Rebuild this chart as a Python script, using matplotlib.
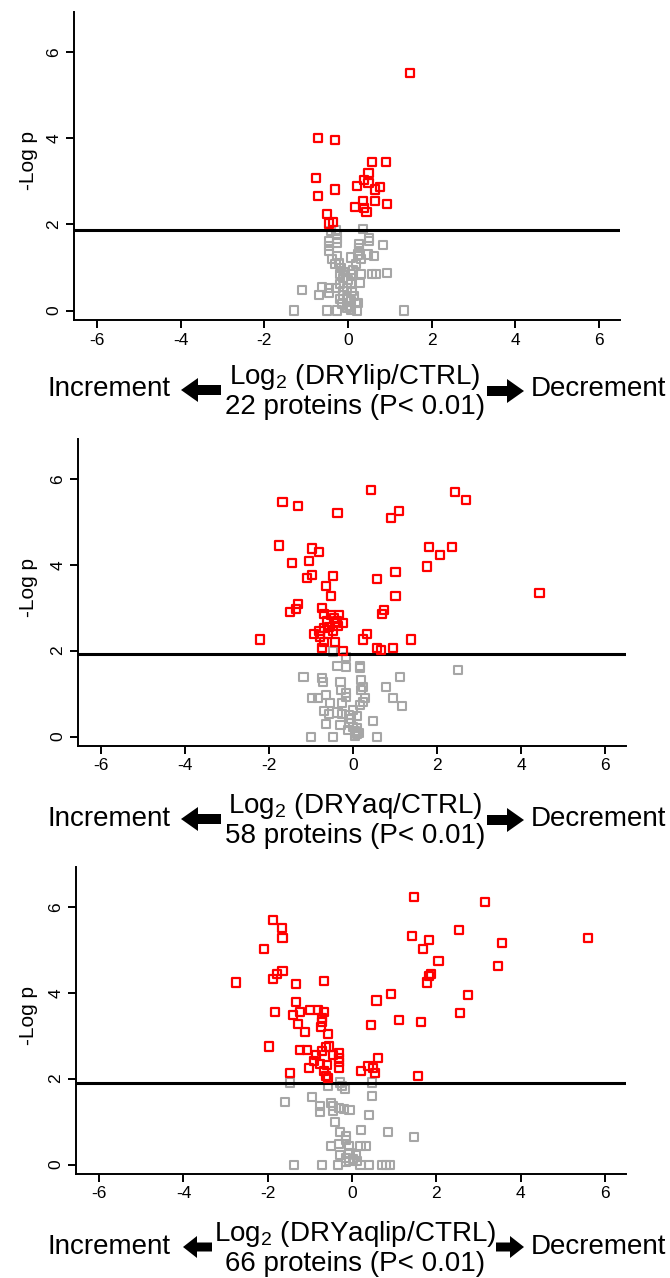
import matplotlib
matplotlib.use("Agg")
import matplotlib.pyplot as plt
from matplotlib.patches import FancyArrow

plt.rcParams['font.family'] = ['Liberation Sans', 'DejaVu Sans']
plt.rcParams['mathtext.fontset'] = 'custom'
plt.rcParams['mathtext.rm'] = 'Liberation Sans'
plt.rcParams['axes.unicode_minus'] = False

# ---- Dados (log2 ratio, -log p) ----
# DRYlip / CTRL
lip_sig_x = [1.48, -0.72, -0.31, 0.58, 0.90, -0.77, 0.49, 0.39, 0.49, 0.22, -0.31, 0.65,
             0.76, -0.72, 0.36, 0.64, 0.93, 0.17, 0.39, 0.44, -0.50, -0.45, -0.35]
lip_sig_y = [5.51, 4.00, 3.96, 3.45, 3.45, 3.08, 3.19, 3.04, 2.97, 2.90, 2.81, 2.81,
             2.86, 2.66, 2.55, 2.55, 2.48, 2.41, 2.38, 2.28, 2.25, 2.02, 2.06]
lip_ns_x = [0.35, -0.29, -0.40, -0.27, -0.46, -0.46, -0.46, -0.27, -0.27, 0.50, 0.50, 0.26,
            0.26, 0.26, 0.84, 0.23, 0.06, 0.47, 0.63, -0.27, -0.22, -0.30, -0.16, 0.19,
            0.30, 0.58, 0.67, 0.32, 0.06, 0.93, -0.20, -0.11, -0.20, -0.29, -0.03, 0.28,
            -0.63, -0.45, -0.45, -1.09, -0.69, -0.11, -0.03, 0.06, 0.15, -0.20, 0.19, 0.02,
            0.23, -1.30, -0.50, -0.27, 0.22, 1.33, -0.03, 0.06, -0.12, 0.10, 0.00, -0.08,
            0.12, -0.38, 0.08, -0.15]
lip_ns_y = [1.90, 1.86, 1.84, 1.77, 1.61, 1.50, 1.38, 1.65, 1.56, 1.69, 1.61, 1.54,
            1.46, 1.38, 1.52, 1.30, 1.23, 1.30, 1.26, 1.27, 1.11, 1.07, 0.99, 1.07,
            1.19, 0.84, 0.84, 0.84, 0.84, 0.88, 0.84, 0.76, 0.61, 0.53, 0.53, 0.64,
            0.54, 0.53, 0.41, 0.47, 0.36, 0.37, 0.30, 0.22, 0.33, 0.26, 0.18, 0.10,
            0.18, 0.00, 0.00, 0.00, 0.00, 0.00, 0.06, 0.02, 0.45, 0.45, 0.70, 0.90,
            0.95, 1.20, 0.62, 0.15]

# DRYaq / CTRL
aq_sig_x = [0.43, 2.43, 2.70, -1.68, -1.31, -0.37, 1.10, 0.91, -1.77, -0.97, -0.82, 1.81,
            2.35, 2.08, 1.77, -1.46, -1.05, 1.01, -1.10, -0.97, -0.48, 0.57, -0.65, -0.52,
            1.01, 4.44, -1.31, -1.35, -1.50, 0.74, 0.70, -0.74, -0.70, -0.52, -0.33, -0.61,
            -0.39, -0.24, -0.57, -0.70, -0.48, -0.35, -0.92, -0.78, -0.70, -0.43, -2.22, 0.33,
            0.23, 1.37, -0.74, -0.24, 0.57, 0.66, 0.96, -0.80, -0.60, -0.45]
aq_sig_y = [5.74, 5.69, 5.50, 5.46, 5.38, 5.21, 5.25, 5.09, 4.45, 4.38, 4.30, 4.42,
            4.42, 4.22, 3.96, 4.04, 4.08, 3.84, 3.70, 3.77, 3.73, 3.66, 3.51, 3.28,
            3.28, 3.35, 3.09, 2.97, 2.90, 2.95, 2.86, 2.99, 2.86, 2.83, 2.83, 2.68,
            2.68, 2.64, 2.56, 2.52, 2.45, 2.58, 2.38, 2.33, 2.20, 2.20, 2.26, 2.38,
            2.26, 2.26, 2.06, 2.00, 2.07, 2.01, 2.06, 2.45, 2.40, 2.75]
aq_ns_x = [-0.48, -0.17, -0.37, -0.16, 0.16, 0.16, 2.49, -1.18, -0.75, -0.71, -0.30, 0.20,
           1.11, 0.24, 0.20, 0.78, -0.28, -0.16, -0.16, -0.65, -0.97, -0.83, 0.29, 0.24,
           0.16, 0.96, 1.17, -0.54, -0.26, -0.70, -0.57, -0.37, -0.26, -0.09, 0.09, 0.00,
           0.47, -0.65, -0.30, -0.09, 0.00, 0.09, -0.13, 0.04, 0.13, -1.01, -0.48, 0.04,
           0.57, -0.05, 0.10]
aq_ns_y = [1.98, 1.86, 1.65, 1.61, 1.64, 1.60, 1.54, 1.39, 1.36, 1.28, 1.28, 1.32,
           1.39, 1.16, 1.09, 1.16, 1.09, 1.01, 0.93, 0.97, 0.90, 0.90, 0.90, 0.81,
           0.74, 0.90, 0.71, 0.78, 0.78, 0.60, 0.52, 0.56, 0.52, 0.50, 0.47, 0.62,
           0.36, 0.30, 0.27, 0.31, 0.23, 0.19, 0.16, 0.12, 0.08, 0.00, 0.00, 0.01,
           0.00, 0.40, 0.05]

# DRYaqlip / CTRL
aqlip_sig_x = [1.46, 3.15, -1.88, -1.66, -1.65, 2.53, 1.42, 1.82, 5.59, 3.55, -2.08, 1.69,
               2.05, 3.47, -1.65, -1.79, -1.88, -2.76, -1.33, -0.67, 1.87, 1.83, 1.78, 0.93,
               2.76, 0.58, -1.33, -1.82, -1.24, -1.40, -0.99, -0.80, -0.67, -0.71, -0.71, -0.73,
               2.57, 1.11, 1.64, 0.44, -1.29, -1.11, -0.58, -1.96, -1.24, -1.07, -0.71, -0.62,
               -0.54, -0.86, -0.45, -0.32, -0.30, -0.30, -0.30, 0.62, -0.90, -0.75, -0.60, -1.03,
               0.39, 0.50, 0.22, 0.54, -1.47, -0.67, -0.62, -0.58, 1.56]
aqlip_sig_y = [6.23, 6.12, 5.70, 5.50, 5.28, 5.46, 5.32, 5.24, 5.28, 5.16, 5.01, 5.01,
               4.74, 4.62, 4.51, 4.43, 4.32, 4.24, 4.20, 4.28, 4.43, 4.39, 4.24, 3.97,
               3.94, 3.82, 3.78, 3.55, 3.55, 3.48, 3.59, 3.59, 3.55, 3.41, 3.33, 3.21,
               3.52, 3.36, 3.32, 3.25, 3.28, 3.09, 3.05, 2.75, 2.67, 2.67, 2.65, 2.73,
               2.75, 2.56, 2.56, 2.59, 2.49, 2.38, 2.26, 2.48, 2.41, 2.34, 2.31, 2.25,
               2.29, 2.25, 2.17, 2.14, 2.14, 2.18, 2.07, 2.01, 2.06]
aqlip_ns_x = [-1.47, -0.28, -0.23, -0.16, -0.58, 0.48, 0.48, -0.94, -1.60, -0.75, -0.51, -0.45,
              -0.32, -0.20, -0.06, -0.45, -0.77, 0.40, -0.41, 0.22, 0.85, 1.46, -0.28, -0.15,
              -0.15, -0.49, -0.32, -0.08, 0.20, 0.33, -0.28, -0.06, 0.10, -0.15, -0.06, 0.03,
              0.11, -0.15, -1.38, -0.72, -0.34, 0.20, 0.41, 0.72, 0.80, 0.89]
aqlip_ns_y = [1.91, 1.91, 1.83, 1.76, 1.82, 1.91, 1.60, 1.57, 1.45, 1.36, 1.44, 1.36,
              1.32, 1.30, 1.27, 1.25, 1.23, 1.15, 0.99, 0.80, 0.76, 0.65, 0.76, 0.66,
              0.58, 0.43, 0.47, 0.43, 0.43, 0.43, 0.23, 0.27, 0.23, 0.16, 0.08, 0.12,
              0.08, 0.05, 0.00, 0.00, 0.00, 0.00, 0.00, 0.00, 0.00, 0.00]

limiares = [1.86, 1.92, 1.91]
razoes = ['DRYlip/CTRL', 'DRYaq/CTRL', 'DRYaqlip/CTRL']
n_proteinas = [22, 58, 66]
xticks = [-6, -4, -2, 0, 2, 4, 6]
yticks = [0, 2, 4, 6]

paineis = [
    (lip_sig_x, lip_sig_y, lip_ns_x, lip_ns_y),
    (aq_sig_x, aq_sig_y, aq_ns_x, aq_ns_y),
    (aqlip_sig_x, aqlip_sig_y, aqlip_ns_x, aqlip_ns_y),
]

# ---- Layout em pixels ----
W, H = 670, 1278
fig = plt.figure(figsize=(W / 100, H / 100), dpi=100)

# left, right, top, bottom (px)
caixas = [(74, 620, 12, 320), (78, 626, 439, 746), (76, 626, 867, 1174)]

for i, (sx, sy, nx, ny) in enumerate(paineis):
    l, r, t, b = caixas[i]
    ax = fig.add_axes([l / W, 1 - b / H, (r - l) / W, (b - t) / H])
    ax.scatter(nx, ny, marker='s', s=34, facecolors='none', edgecolors='#a6a6a6',
               linewidths=1.5, zorder=2)
    ax.scatter(sx, sy, marker='s', s=34, facecolors='none', edgecolors='#ff0000',
               linewidths=1.6, zorder=4)
    ax.axhline(limiares[i], color='black', lw=2.2, zorder=3)
    ax.set_xlim(-6.55, 6.5)
    ax.set_ylim(-0.22, 6.93)
    ax.set_xticks(xticks)
    ax.set_yticks(yticks)
    ax.spines['top'].set_visible(False)
    ax.spines['right'].set_visible(False)
    for s in ['left', 'bottom']:
        ax.spines[s].set_linewidth(1.4)
    ax.tick_params(direction='out', length=6, width=1.4, labelsize=12.5, pad=3)
    ax.tick_params(axis='y', labelrotation=90)
    for lab in ax.get_yticklabels():
        lab.set_va('center')
    fig.text(28 / W, 1 - ((t + b) / 2 - 5) / H, '-Log p', rotation=90,
             ha='center', va='center', fontsize=15)

    # texto abaixo do eixo
    base = b
    yinc = base + (69 if i == 0 else 73)
    y1 = base + (57 if i == 0 else 60)
    y2 = base + (87 if i == 0 else 90)
    fig.text(48 / W, 1 - yinc / H, 'Increment', ha='left', va='center', fontsize=20)
    fig.text(666 / W, 1 - yinc / H, 'Decrement', ha='right', va='center', fontsize=20)
    fig.text(355 / W, 1 - y1 / H, r'Log$_\mathregular{2}$ (' + razoes[i] + ')',
             ha='center', va='center', fontsize=20)
    fig.text(355 / W, 1 - y2 / H, '%d proteins (P< 0.01)' % n_proteinas[i],
             ha='center', va='center', fontsize=20)

# setas
sobre = fig.add_axes([0, 0, 1, 1], zorder=-1)
sobre.set_xlim(0, W)
sobre.set_ylim(H, 0)
sobre.axis('off')
setas = [
    (221, 181, 390, 10, 24, 17), (487, 524, 391, 10, 24, 17),
    (221, 181, 819, 10, 24, 17), (487, 524, 820, 10, 24, 17),
    (212, 183, 1247, 9, 22, 14), (496, 524, 1247, 9, 22, 14),
]
for x0, x1, yy, w, hw, hl in setas:
    sobre.add_patch(FancyArrow(x0, yy, x1 - x0, 0, width=w, head_width=hw, head_length=hl,
                               length_includes_head=True, color='black', lw=0))

plt.savefig('out.png', dpi=100)
